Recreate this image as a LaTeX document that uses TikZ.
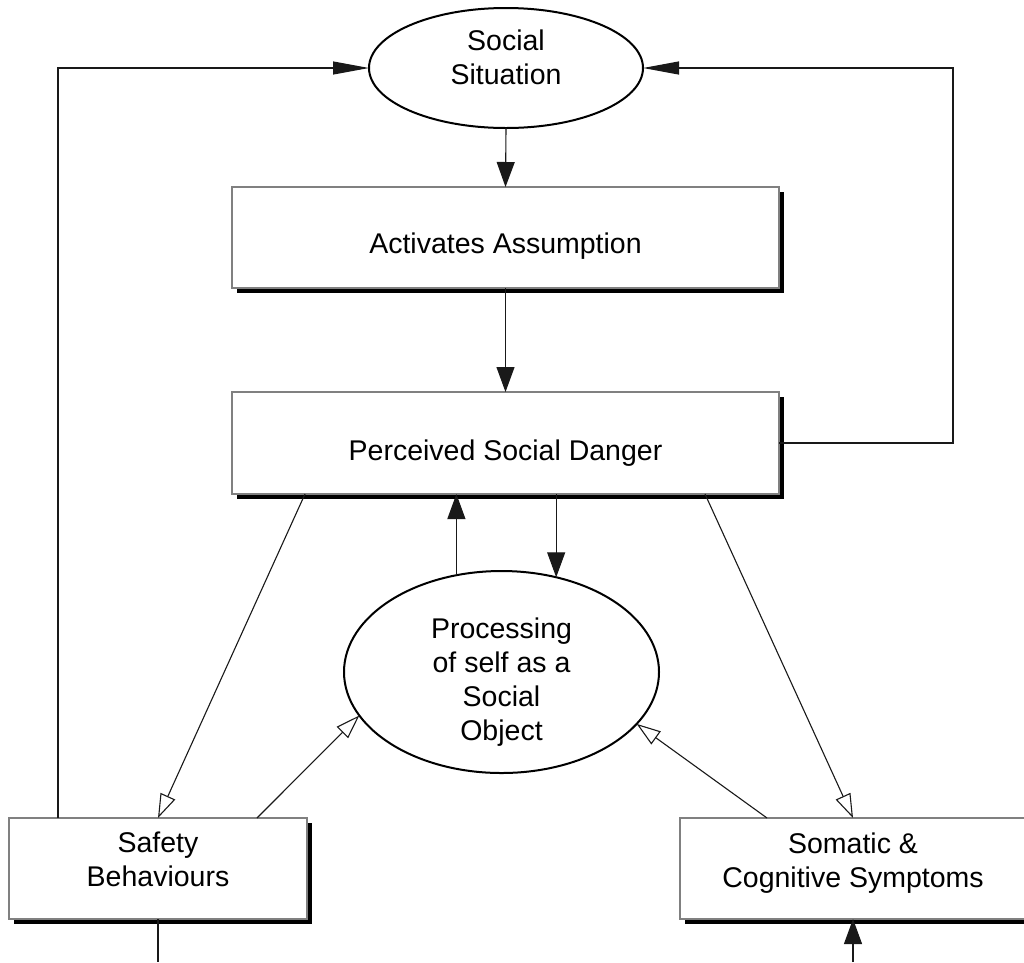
\documentclass[tikz,border=0pt]{standalone}
\usepackage{fontspec}
\setmainfont{Liberation Sans}
\usetikzlibrary{arrows.meta,shadows,shapes.geometric}
\begin{document}
\begin{tikzpicture}[x=1pt,y=-1pt,
  txt/.style={font=\fontsize{28.5}{34}\selectfont, align=center, inner sep=0pt},
  boxnode/.style={rectangle, draw=black!50, line width=1.2pt, fill=white, inner sep=0pt, outer sep=0pt,
    drop shadow={shadow xshift=4.5pt, shadow yshift=-4.5pt, opacity=1, fill=black}},
  ellnode/.style={ellipse, draw=black, line width=2pt, fill=white, inner sep=0pt, outer sep=0pt},
  conn/.style={draw=black!90, line width=1.1pt},
  vtip/.style={conn, -{Triangle[length=25pt,width=18pt]}},
  htip/.style={conn, -{Triangle[length=36pt,width=13pt]}},
  otip/.style={conn, -{Triangle[open,length=24pt,width=16pt]}}
]
\useasboundingbox[fill=white] (0,0) rectangle (1024,962);

\node[ellnode, minimum width=274pt, minimum height=120pt,
  label={[txt, yshift=11pt]center:Social\\Situation}] (soc) at (506,68) {};
\node[boxnode, minimum width=547pt, minimum height=101pt,
  label={[txt, yshift=-8.5pt]center:Activates Assumption}] (act) at (505.5,237.5) {};
\node[boxnode, minimum width=547pt, minimum height=102pt,
  label={[txt, yshift=-10pt]center:Perceived Social Danger}] (perc) at (505.5,443) {};
\node[ellnode, minimum width=315pt, minimum height=202pt,
  label={[txt, yshift=-10pt]center:Processing\\of self as a\\Social\\Object}] (proc) at (501.5,672) {};
\node[boxnode, minimum width=298pt, minimum height=101pt,
  label={[txt, yshift=9.5pt]center:Safety\\Behaviours}] (safe) at (158,868.5) {};
\node[boxnode, minimum width=346pt, minimum height=101pt,
  label={[txt, yshift=5.5pt]center:Somatic \&\\Cognitive Symptoms}] (som) at (853,868.5) {};

\coordinate (rcorner) at (953,68);
\coordinate (sbot) at (158,962);
\coordinate (mbot) at (853,962);

% main chain
\draw[vtip] (soc.south) -- (act.north);
\draw[vtip] (act.south) -- (perc.north);
% right loop back to social situation
\draw[htip] (perc.east) -| (rcorner) -- (soc.east);
% left loop from safety behaviours
\draw[htip] ([xshift=-100pt]safe.north) |- (soc.west);
% between perceived danger and processing
\draw[vtip] (proc.115) -- (proc.115 |- perc.south);
\draw[vtip] (proc.60 |- perc.south) -- (proc.60);
% hollow arrows
\draw[otip] ([xshift=-200.5pt]perc.south) -- (safe.north);
\draw[otip] ([xshift=199.5pt]perc.south) -- (som.north);
\draw[otip] ([xshift=99pt]safe.north) -- (proc.197.3);
\draw[otip] ([xshift=-86pt]som.north) -- (proc.339.7);
% bottom lines
\draw[conn] (safe.south) -- (sbot);
\draw[vtip] (mbot) -- (som.south);
\end{tikzpicture}
\end{document}
